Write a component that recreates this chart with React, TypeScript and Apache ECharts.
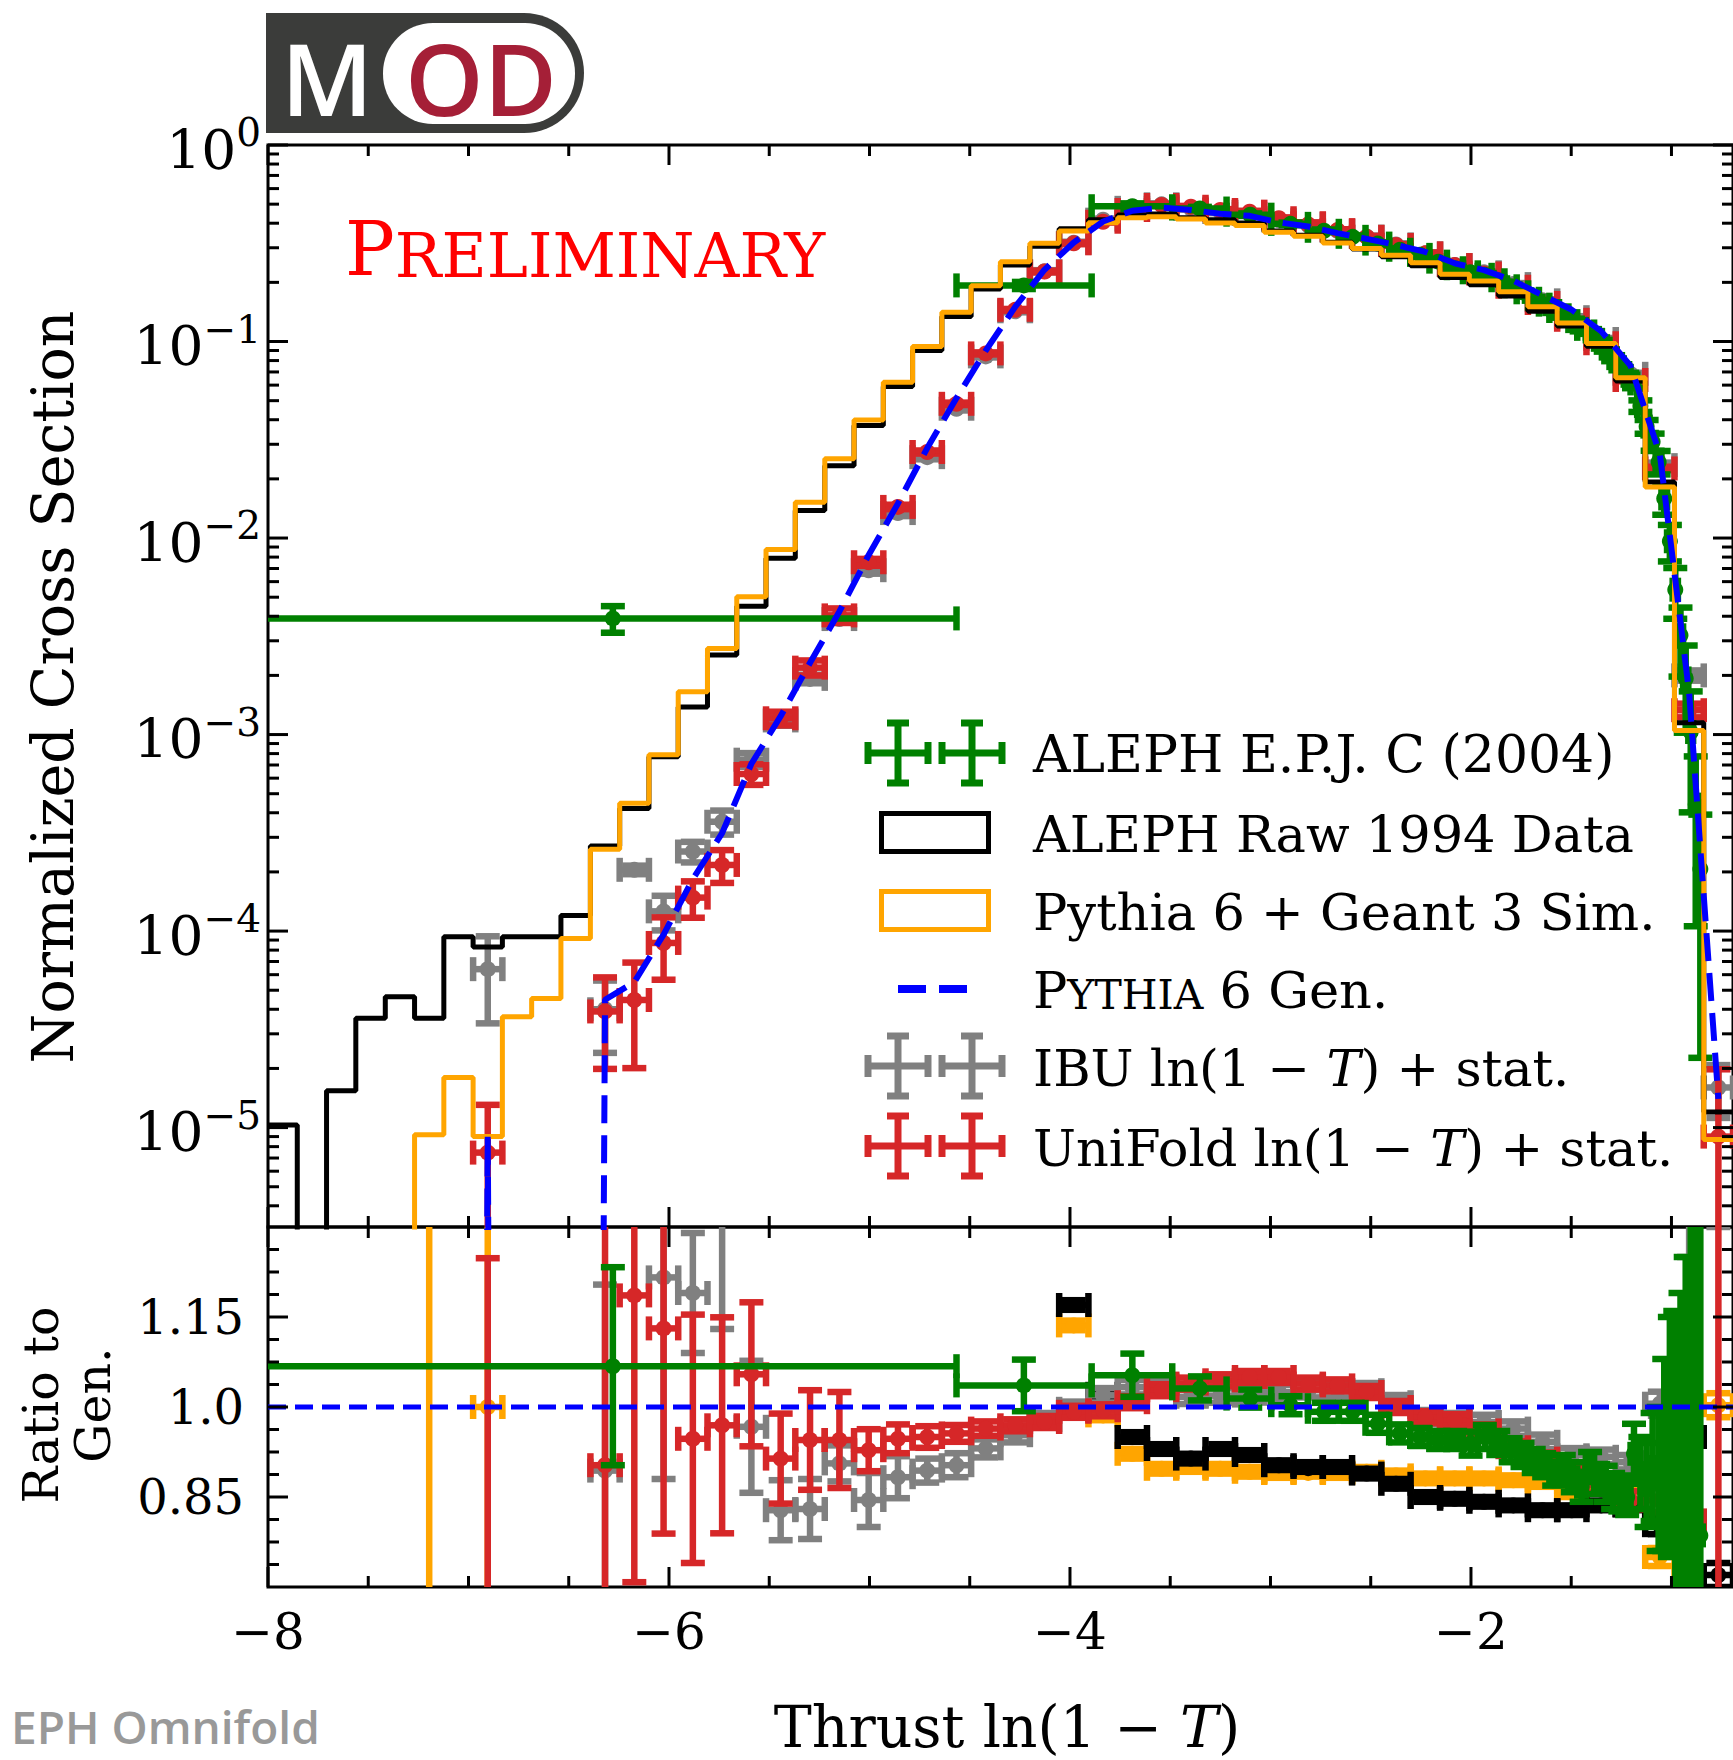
import React, { useEffect, useRef } from 'react';
import * as echarts from 'echarts';

// ---------------- DATA ----------------
// 50 bins in ln(1-T), edges
const BIN_EDGES = [-8.000, -7.854, -7.708, -7.562, -7.415, -7.269, -7.123, -6.977, -6.831, -6.685, -6.539, -6.392, -6.246, -6.100, -5.954, -5.808, -5.662, -5.516, -5.370, -5.223, -5.077, -4.931, -4.785, -4.639, -4.493, -4.347, -4.200, -4.054, -3.908, -3.762, -3.616, -3.470, -3.324, -3.177, -3.031, -2.885, -2.739, -2.593, -2.447, -2.301, -2.154, -2.008, -1.862, -1.716, -1.570, -1.424, -1.278, -1.131, -0.985, -0.839, -0.693];

// Pythia 6 generator level (blue dashed), per bin
const GEN = [0, 0, 0, 0, 0, 0, 0, 9.0e-6, 0, 0, 0, 4.47e-5, 5.5e-5, 9.6e-5, 1.84e-4, 3.15e-4, 7.1e-4, 1.24e-3, 2.32e-3, 4.23e-3, 8.2e-3, 1.5e-2, 2.87e-2, 5.16e-2, 9.0e-2, 0.15, 0.232, 0.319, 0.408, 0.463, 0.48, 0.467, 0.447, 0.436, 0.404, 0.385, 0.356, 0.333, 0.31, 0.286, 0.25, 0.231, 0.204, 0.172, 0.145, 0.113, 0.0754, 0.0267, 0.00164, 1.4e-5];

// ALEPH raw 1994 data (black histogram)
const ALEPH_RAW = [1.03e-5, 0, 1.54e-5, 3.6e-5, 4.63e-5, 3.6e-5, 9.35e-5, 8.3e-5, 9.35e-5, 9.35e-5, 1.2e-4, 2.71e-4, 4.2e-4, 7.7e-4, 1.38e-3, 2.54e-3, 4.5e-3, 7.9e-3, 1.38e-2, 2.33e-2, 3.74e-2, 5.9e-2, 9.0e-2, 0.134, 0.185, 0.245, 0.305, 0.375, 0.417, 0.44, 0.446, 0.427, 0.416, 0.401, 0.365, 0.347, 0.32, 0.296, 0.27, 0.243, 0.212, 0.1945, 0.1705, 0.1424, 0.12, 0.0945, 0.063, 0.0193, 1.15e-3, 1.2e-5];

// Pythia 6 + Geant 3 simulation (orange histogram)
const PYTHIA_SIM = [0, 0, 0, 0, 0, 9.2e-6, 1.8e-5, 9.0e-6, 3.66e-5, 4.54e-5, 9.18e-5, 2.61e-4, 4.47e-4, 7.9e-4, 1.65e-3, 2.74e-3, 5.02e-3, 8.74e-3, 1.52e-2, 2.53e-2, 3.99e-2, 6.2e-2, 9.44e-2, 0.141, 0.192, 0.255, 0.316, 0.365, 0.402, 0.427, 0.431, 0.42, 0.401, 0.389, 0.36, 0.343, 0.317, 0.297, 0.275, 0.252, 0.22, 0.2035, 0.179, 0.1505, 0.1244, 0.0977, 0.0654, 0.0182, 1.05e-3, 8.7e-6];

// Unfolded results live in these bins
const UNF_BINS = [7, 11, 12, 13, 14, 15, 16, 17, 18, 19, 20, 21, 22, 23, 24, 25, 26, 27, 28, 29, 30, 31, 32, 33, 34, 35, 36, 37, 38, 39, 40, 41, 42, 43, 44, 45, 46, 47, 48, 49];

// UniFold (red)
const UNIFOLD = [7.46e-6, 3.9e-5, 4.46e-5, 8.7e-5, 1.48e-4, 2.17e-4, 6.3e-4, 1.21e-3, 2.19e-3, 4.04e-3, 7.53e-3, 1.44e-2, 2.74e-2, 4.82e-2, 8.7e-2, 0.145, 0.227, 0.316, 0.407, 0.467, 0.495, 0.485, 0.467, 0.458, 0.424, 0.40, 0.369, 0.341, 0.31, 0.281, 0.245, 0.222, 0.19, 0.157, 0.129, 0.098, 0.0637, 0.0226, 1.33e-3, 9e-6];
const UNIFOLD_REL = [0.75, 0.49, 0.55, 0.35, 0.21, 0.19, 0.12, 0.08, 0.088, 0.085, 0.04, 0.026, 0.018, 0.014, 0.012, 0.01, 0.01, 0.01, 0.01, 0.01, 0.01, 0.01, 0.01, 0.01, 0.01, 0.01, 0.01, 0.01, 0.01, 0.01, 0.01, 0.01, 0.01, 0.01, 0.01, 0.012, 0.015, 0.02, 0.08, 1.2];
const UNIFOLD_RATIO = [0.62, 0.903, 1.186, 1.131, 0.947, 0.9695, 1.0545, 0.914, 0.945, 0.945, 0.928, 0.947, 0.95, 0.956, 0.964, 0.9695, 0.975, 0.992, 0.9945, 1.008, 1.028, 1.039, 1.0445, 1.05, 1.05, 1.039, 1.036, 1.025, 1.0, 0.983, 0.978, 0.961, 0.933, 0.914, 0.889, 0.8695, 0.8445, 0.8445, 0.811, 0.59];
const UNIFOLD_RATIO_ERR = [0.628, 0.5, 0.478, 0.342, 0.207, 0.18, 0.12, 0.075, 0.083, 0.08, 0.035, 0.024, 0.018, 0.014, 0.012, 0.01, 0.01, 0.01, 0.01, 0.01, 0.01, 0.01, 0.01, 0.01, 0.01, 0.01, 0.01, 0.01, 0.01, 0.01, 0.01, 0.01, 0.01, 0.01, 0.01, 0.012, 0.015, 0.02, 0.1, 1.0];

// IBU (gray)
const IBU = [6.4e-5, 4.0e-5, 2.05e-4, 1.26e-4, 2.54e-4, 3.6e-4, 7.45e-4, 1.18e-3, 1.92e-3, 3.87e-3, 6.86e-3, 1.34e-2, 2.58e-2, 4.55e-2, 8.4e-2, 0.1425, 0.228, 0.318, 0.417, 0.479, 0.499, 0.475, 0.456, 0.446, 0.414, 0.396, 0.366, 0.342, 0.312, 0.281, 0.245, 0.225, 0.196, 0.162, 0.133, 0.103, 0.0685, 0.0235, 2.0e-3, 1.6e-5];
const IBU_REL = [0.47, 0.4, 0.05, 0.2, 0.12, 0.14, 0.08, 0.06, 0.05, 0.04, 0.04, 0.035, 0.025, 0.02, 0.012, 0.012, 0.012, 0.012, 0.012, 0.012, 0.012, 0.012, 0.012, 0.012, 0.012, 0.012, 0.012, 0.012, 0.012, 0.012, 0.012, 0.012, 0.012, 0.012, 0.012, 0.012, 0.012, 0.03, 0.06, 0.3];
const IBU_RATIO = [7.0, 0.894, 3.7, 1.216, 1.19, 1.33, 0.967, 0.828, 0.83, 0.906, 0.845, 0.883, 0.894, 0.903, 0.931, 0.953, 0.978, 0.997, 1.0195, 1.033, 1.036, 1.017, 1.019, 1.022, 1.025, 1.028, 1.028, 1.028, 1.008, 0.983, 0.978, 0.975, 0.964, 0.942, 0.9195, 0.917, 0.908, 1.0055, 1.35, 1.4];
const IBU_RATIO_ERR = [0.1, 0.31, 0.1, 0.336, 0.1, 0.2, 0.11, 0.05, 0.05, 0.03, 0.045, 0.035, 0.02, 0.02, 0.015, 0.012, 0.012, 0.012, 0.012, 0.012, 0.012, 0.012, 0.012, 0.012, 0.012, 0.012, 0.012, 0.012, 0.012, 0.012, 0.012, 0.012, 0.012, 0.012, 0.012, 0.012, 0.012, 0.02, 0.1, 0.1];

// Ratios of raw data / simulation to generator
const RAW_RATIO_BINS = [27, 28, 29, 30, 31, 32, 33, 34, 35, 36, 37, 38, 39, 40, 41, 42, 43, 44, 45, 46, 47, 48, 49];
const RAW_RATIO = [1.17, 1.022, 0.95, 0.93, 0.914, 0.93, 0.92, 0.903, 0.9, 0.9, 0.889, 0.872, 0.85, 0.847, 0.842, 0.836, 0.828, 0.828, 0.836, 0.836, 0.803, 0.95, 0.72];
const RAW_RATIO_ERR = [0.008, 0.008, 0.008, 0.008, 0.008, 0.008, 0.008, 0.008, 0.008, 0.008, 0.008, 0.008, 0.008, 0.008, 0.008, 0.008, 0.008, 0.008, 0.008, 0.008, 0.015, 0.09, 0.02];
const SIM_RATIO_BINS = [5, 7, 27, 28, 29, 30, 31, 32, 33, 34, 35, 36, 37, 38, 39, 40, 41, 42, 43, 44, 45, 46, 47, 48, 49];
const SIM_RATIO = [2.0, 1.0, 1.136, 0.986, 0.922, 0.897, 0.9, 0.897, 0.892, 0.89, 0.892, 0.89, 0.892, 0.886, 0.881, 0.881, 0.881, 0.878, 0.875, 0.858, 0.865, 0.867, 0.75, 0.72, 1.003];
const SIM_RATIO_ERR = [2.0, 0.5, 0.008, 0.008, 0.008, 0.008, 0.008, 0.008, 0.008, 0.008, 0.008, 0.008, 0.008, 0.008, 0.008, 0.008, 0.008, 0.008, 0.008, 0.008, 0.008, 0.008, 0.015, 0.025, 0.02];

// ALEPH E.P.J. C (2004): bin edges and point positions in ln(1-T)
const ALEPH_LN_EDGES = [-9, -4.566, -3.892, -3.490, -3.219, -2.996, -2.813, -2.659, -2.526, -2.408, -2.303, -2.207, -2.120, -2.040, -1.966, -1.897, -1.833, -1.772, -1.715, -1.661, -1.609, -1.561, -1.514, -1.470, -1.427, -1.386, -1.347, -1.309, -1.273, -1.238, -1.204, -1.171, -1.139, -1.109, -1.079, -1.050, -1.022, -0.994, -0.968, -0.942, -0.916, -0.892, -0.868, -0.844];
const ALEPH_X = [-6.28, -4.23, -3.689, -3.352, -3.101, -2.900, -2.733, -2.590, -2.465, -2.354, -2.254, -2.163, -2.079, -2.002, -1.931, -1.864, -1.802, -1.743, -1.687, -1.635, -1.585, -1.537, -1.492, -1.448, -1.406, -1.366, -1.328, -1.291, -1.255, -1.221, -1.187, -1.155, -1.124, -1.094, -1.064, -1.036, -1.008, -0.981, -0.955, -0.929, -0.904, -0.879, -0.856];
const ALEPH_VAL = [3.9e-3, 0.193, 0.488, 0.475, 0.442, 0.397, 0.366, 0.341, 0.315, 0.293, 0.276, 0.255, 0.236, 0.225, 0.2185, 0.205, 0.191, 0.178, 0.165, 0.154, 0.143, 0.136, 0.127, 0.116, 0.1125, 0.102, 0.092, 0.0823, 0.074, 0.0669, 0.0612, 0.047, 0.0369, 0.0309, 0.0244, 0.0159, 0.00963, 0.00546, 0.0032, 0.00193, 1.03e-3, 4.4e-4, 2.07e-4];
const ALEPH_RATIO = [1.068, 1.036, 1.053, 1.031, 1.014, 1.003, 0.992, 0.992, 0.972, 0.956, 0.95, 0.945, 0.945, 0.939, 0.95, 0.94, 0.928, 0.92, 0.91, 0.903, 0.889, 0.895, 0.883, 0.867, 0.9, 0.88, 0.872, 0.86, 0.856, 0.85, 0.922, 0.89, 0.87, 0.9, 0.88, 0.92, 0.95, 0.9, 0.86, 0.85, 0.82, 0.79, 0.786];
const ALEPH_RATIO_ERR = [0.165, 0.043, 0.036, 0.02, 0.015, 0.015, 0.015, 0.015, 0.015, 0.015, 0.015, 0.015, 0.015, 0.02, 0.02, 0.02, 0.02, 0.02, 0.02, 0.02, 0.02, 0.025, 0.025, 0.025, 0.025, 0.025, 0.03, 0.03, 0.03, 0.03, 0.05, 0.06, 0.07, 0.09, 0.12, 0.16, 0.2, 0.26, 0.33, 0.4, 0.5, 0.6, 0.7];

// Axis ticks
const X_MAJOR = [-8, -6, -4, -2];
const X_MINOR = [-7.5, -7, -6.5, -5.5, -5, -4.5, -3.5, -3, -2.5, -1.5, -1];
const Y_DECADES = [1e-5, 1e-4, 1e-3, 1e-2, 1e-1, 1];
const Y_MANTISSAS = [2, 3, 4, 5, 6, 7, 8, 9];
const Y_MINOR_EXPONENTS = [-6, -5, -4, -3, -2, -1];
const R_MAJOR = [0.85, 1.0, 1.15];
const R_MINOR = [0.7375, 0.775, 0.8125, 0.8875, 0.925, 0.9625, 1.0375, 1.075, 1.1125, 1.1875, 1.225, 1.2625];

// ---------------- STYLE ----------------
const SERIF = '"DejaVu Serif", "Liberation Serif", serif';
const SANS = '"Open Sans", "Noto Sans", sans-serif';
const C_GREEN = '#008000';
const C_ORANGE = '#FFA500';
const C_BLUE = '#0000FF';
const C_GRAY = '#808080';
const C_RED = '#D62728';
const XMIN = -8;
const XMAX = -0.6931;
const YMIN = 3.12e-6;
const TINY = 1e-30;
const GRID_L = 268;
const GRID_W = 1479.6;
const MAIN_T = 145;
const MAIN_H = 1082;
const RAT_T = 1227;
const RAT_H = 360;

const center = (k: number) => (BIN_EDGES[k] + BIN_EDGES[k + 1]) / 2;

function histPoints(vals: number[]) {
  const pts: number[][] = [];
  vals.forEach((v, k) => {
    const y = v > 0 ? v : TINY;
    pts.push([BIN_EDGES[k], y], [BIN_EDGES[k + 1], y]);
  });
  return pts;
}

function errRender(color: string, lw: number, cap: number, r: number) {
  return (params: any, api: any) => {
    const x = api.value(0), y = api.value(1), xl = api.value(2), xh = api.value(3), yl = api.value(4), yh = api.value(5);
    const c = api.coord([x, y]);
    const l = api.coord([xl, y]);
    const rr = api.coord([xh, y]);
    const b = api.coord([x, yl]);
    const t = api.coord([x, yh]);
    const h = cap / 2;
    const st = { stroke: color, lineWidth: lw, fill: null };
    const seg = (x1: number, y1: number, x2: number, y2: number) => ({ type: 'line', shape: { x1, y1, x2, y2 }, style: st });
    const children: any[] = [
      seg(l[0], c[1], rr[0], c[1]),
      seg(l[0], c[1] - h, l[0], c[1] + h),
      seg(rr[0], c[1] - h, rr[0], c[1] + h),
      seg(c[0], b[1], c[0], t[1]),
      seg(c[0] - h, b[1], c[0] + h, b[1]),
      seg(c[0] - h, t[1], c[0] + h, t[1]),
    ];
    if (r > 0) children.push({ type: 'circle', shape: { cx: c[0], cy: c[1], r }, style: { fill: color } });
    return { type: 'group', children };
  };
}

function errSeries(name: string, color: string, gi: number, data: number[][]) {
  return {
    type: 'custom', name, xAxisIndex: gi, yAxisIndex: gi, clip: true, silent: true,
    encode: { x: 0, y: 1 }, data, renderItem: errRender(color, 6.5, 24, 8),
  };
}

function tickSeries(gi: number, data: number[][]) {
  return {
    type: 'custom', xAxisIndex: gi, yAxisIndex: gi, clip: false, silent: true, z: 5,
    encode: { x: 0, y: 1 }, data,
    renderItem: (params: any, api: any) => {
      const p = api.coord([api.value(0), api.value(1)]);
      return { type: 'line', shape: { x1: p[0], y1: p[1], x2: p[0] + api.value(2), y2: p[1] + api.value(3) }, style: { stroke: '#000', lineWidth: 3 } };
    },
  };
}

const mainErrData = (vals: number[], rel: number[]) =>
  UNF_BINS.map((k, i) => {
    const v = vals[i];
    const e = v * rel[i];
    return [center(k), v, BIN_EDGES[k], BIN_EDGES[k + 1], Math.max(v - e, TINY), v + e];
  });
const ratioErrData = (bins: number[], vals: number[], errs: number[]) =>
  bins.map((k, i) => [center(k), vals[i], BIN_EDGES[k], BIN_EDGES[k + 1], vals[i] - errs[i], vals[i] + errs[i]]);
const alephMain = ALEPH_VAL.map((v, j) => {
  const e = v * ALEPH_RATIO_ERR[j] / ALEPH_RATIO[j];
  return [ALEPH_X[j], v, ALEPH_LN_EDGES[j], ALEPH_LN_EDGES[j + 1], Math.max(v - e, TINY), v + e];
});
const alephRatio = ALEPH_RATIO.map((r, j) => [ALEPH_X[j], r, ALEPH_LN_EDGES[j], ALEPH_LN_EDGES[j + 1], r - ALEPH_RATIO_ERR[j], r + ALEPH_RATIO_ERR[j]]);

// tick marks (inward)
const mainTicks: number[][] = [];
X_MAJOR.forEach((v) => { mainTicks.push([v, YMIN, 0, -20], [v, 1, 0, 20]); });
X_MINOR.forEach((v) => { mainTicks.push([v, YMIN, 0, -11], [v, 1, 0, 11]); });
Y_DECADES.forEach((v) => { mainTicks.push([XMIN, v, 20, 0], [XMAX, v, -20, 0]); });
Y_MINOR_EXPONENTS.forEach((e) => Y_MANTISSAS.forEach((m) => {
  const v = m * Math.pow(10, e);
  if (v > YMIN && v < 1) mainTicks.push([XMIN, v, 11, 0], [XMAX, v, -11, 0]);
}));
const ratTicks: number[][] = [];
X_MAJOR.forEach((v) => { ratTicks.push([v, 0.7, 0, -20], [v, 1.3, 0, 20]); });
X_MINOR.forEach((v) => { ratTicks.push([v, 0.7, 0, -11], [v, 1.3, 0, 11]); });
R_MAJOR.forEach((v) => { ratTicks.push([XMIN, v, 20, 0], [XMAX, v, -20, 0]); });
R_MINOR.forEach((v) => { ratTicks.push([XMIN, v, 11, 0], [XMAX, v, -11, 0]); });

// ---------------- GRAPHICS ----------------
function crossIcon(cx: number, cy: number, color: string) {
  const h = 30, c = 11, lw = 7;
  const st = { stroke: color, lineWidth: lw };
  const L = (x1: number, y1: number, x2: number, y2: number) => ({ type: 'line', shape: { x1, y1, x2, y2 }, style: st, z: 10 });
  return {
    type: 'group', children: [
      L(cx - h, cy, cx + h, cy), L(cx, cy - h, cx, cy + h),
      L(cx - h, cy - c, cx - h, cy + c), L(cx + h, cy - c, cx + h, cy + c),
      L(cx - c, cy - h, cx + c, cy - h), L(cx - c, cy + h, cx + c, cy + h),
    ],
  };
}

function txt(x: number, y: number, text: string, size: number, extra: any = {}) {
  return {
    type: 'text', x, y, rotation: extra.rotation || 0, z: extra.z || 10,
    style: {
      text, fontSize: size, fontFamily: extra.family || SERIF, fill: extra.fill || '#000',
      fontWeight: extra.weight || 'normal', lineHeight: extra.lineHeight,
      align: extra.align || 'left', textAlign: extra.align || 'left',
      verticalAlign: extra.valign || 'middle', textVerticalAlign: extra.valign || 'middle',
      rich: extra.rich,
    },
  };
}

const italicRich = (size: number) => ({ i: { fontStyle: 'italic', fontSize: size, lineHeight: size, fontFamily: SERIF, fill: '#000' } });

const graphics: any[] = [
  // logo
  { type: 'rect', shape: { x: 266, y: 13, width: 318, height: 120, r: [0, 60, 60, 0] }, style: { fill: '#3b3c3a' }, z: 10 },
  { type: 'rect', shape: { x: 383, y: 23, width: 192, height: 101, r: 50 }, style: { fill: '#ffffff' }, z: 11 },
  txt(327, 77, 'M', 100, { family: SANS, weight: 600, fill: '#ffffff', align: 'center', z: 12 }),
  txt(481, 77, 'OD', 100, { family: SANS, weight: 600, fill: '#A51F37', align: 'center', z: 12 }),
  // preliminary
  {
    type: 'text', x: 345, y: 286, z: 10,
    style: {
      text: '{p|P}{s|RELIMINARY}', align: 'left', textAlign: 'left', verticalAlign: 'bottom', textVerticalAlign: 'bottom',
      rich: {
        p: { fontSize: 74, lineHeight: 74, fontFamily: SERIF, fill: '#FF0000', verticalAlign: 'bottom' },
        s: { fontSize: 62, lineHeight: 66, fontFamily: SERIF, fill: '#FF0000', verticalAlign: 'bottom' },
      },
    },
  },
  // legend
  crossIcon(898, 753, C_GREEN), crossIcon(972, 753, C_GREEN),
  { type: 'rect', shape: { x: 881.5, y: 813.5, width: 107, height: 38 }, style: { fill: 'none', stroke: '#000', lineWidth: 5 }, z: 10 },
  { type: 'rect', shape: { x: 881.5, y: 891.5, width: 107, height: 38 }, style: { fill: 'none', stroke: C_ORANGE, lineWidth: 5 }, z: 10 },
  { type: 'line', shape: { x1: 898, y1: 989, x2: 926, y2: 989 }, style: { stroke: C_BLUE, lineWidth: 8 }, z: 10 },
  { type: 'line', shape: { x1: 939, y1: 989, x2: 967, y2: 989 }, style: { stroke: C_BLUE, lineWidth: 8 }, z: 10 },
  crossIcon(898, 1066, C_GRAY), crossIcon(972, 1066, C_GRAY),
  crossIcon(898, 1146, C_RED), crossIcon(972, 1146, C_RED),
  txt(1033, 754, 'ALEPH E.P.J. C (2004)', 52),
  txt(1033, 834, 'ALEPH Raw 1994 Data', 51),
  txt(1033, 912, 'Pythia 6 + Geant 3 Sim.', 51),
  {
    type: 'text', x: 1033, y: 990, z: 10,
    style: {
      text: '{p|P}{s|YTHIA}{p| 6 Gen.}', align: 'left', textAlign: 'left', verticalAlign: 'middle', textVerticalAlign: 'middle',
      rich: {
        p: { fontSize: 51, lineHeight: 51, fontFamily: SERIF, fill: '#000', verticalAlign: 'bottom' },
        s: { fontSize: 41, lineHeight: 44, fontFamily: SERIF, fill: '#000', verticalAlign: 'bottom' },
      },
    },
  },
  txt(1033, 1068, 'IBU ln(1 − {i|T}) + stat.', 51, { rich: italicRich(51), lineHeight: 51 }),
  txt(1033, 1148, 'UniFold ln(1 − {i|T}) + stat.', 51, { rich: italicRich(51), lineHeight: 51 }),
  // axis titles
  txt(1007, 1727, 'Thrust ln(1 − {i|T})', 57, { align: 'center', rich: italicRich(57), lineHeight: 57 }),
  txt(53, 687, 'Normalized Cross Section', 57, { align: 'center', rotation: Math.PI / 2 }),
  txt(41, 1405, 'Ratio to', 49, { align: 'center', rotation: Math.PI / 2 }),
  txt(93, 1405, 'Gen.', 49, { align: 'center', rotation: Math.PI / 2 }),
  // footer
  txt(11, 1749, 'EPH Omnifold', 46, { family: SANS, weight: 600, fill: '#999999', valign: 'bottom', lineHeight: 46 }),
];

// ---------------- CHART ----------------
function buildOption() {
  const xAxisBase = (gi: number, labels: boolean) => ({
    type: 'value', gridIndex: gi, min: XMIN, max: XMAX, interval: 2,
    axisLine: { show: false }, axisTick: { show: false }, splitLine: { show: false },
    axisLabel: {
      show: labels, margin: 20, showMaxLabel: false, fontSize: 50, fontFamily: SERIF, color: '#000',
      formatter: (v: number) => (Math.abs(v - Math.round(v)) < 1e-6 ? (v < 0 ? '−' + Math.abs(Math.round(v)) : String(Math.round(v))) : ''),
    },
  });
  return {
    animation: false,
    grid: [
      { left: GRID_L, top: MAIN_T, width: GRID_W, height: MAIN_H, show: true, borderColor: '#000', borderWidth: 3, backgroundColor: 'transparent' },
      { left: GRID_L, top: RAT_T, width: GRID_W, height: RAT_H, show: true, borderColor: '#000', borderWidth: 3, backgroundColor: 'transparent' },
    ],
    xAxis: [xAxisBase(0, false), xAxisBase(1, true)],
    yAxis: [
      {
        type: 'log', gridIndex: 0, min: YMIN, max: 1, logBase: 10,
        axisLine: { show: false }, axisTick: { show: false }, splitLine: { show: false },
        axisLabel: {
          margin: 7, color: '#000',
          formatter: (v: number) => {
            const lg = Math.log10(v);
            const e = Math.round(lg);
            if (Math.abs(lg - e) > 1e-6) return '';
            return '{b|10}{s|' + (e < 0 ? '−' + -e : String(e)) + '}';
          },
          rich: {
            b: { fontSize: 55, fontFamily: SERIF, color: '#000', lineHeight: 64, verticalAlign: 'bottom' },
            s: { fontSize: 39, fontFamily: SERIF, color: '#000', lineHeight: 32, verticalAlign: 'top' },
          },
        },
      },
      {
        type: 'value', gridIndex: 1, min: 0.7, max: 1.3, interval: 0.05,
        axisLine: { show: false }, axisTick: { show: false }, splitLine: { show: false },
        axisLabel: {
          interval: 0, margin: 24, fontSize: 48, fontFamily: SERIF, color: '#000',
          formatter: (v: number) => {
            if (Math.abs(v - 1) < 1e-6) return '1.0';
            if (Math.abs(v - 0.85) < 1e-6) return '0.85';
            if (Math.abs(v - 1.15) < 1e-6) return '1.15';
            return '';
          },
        },
      },
    ],
    graphic: graphics,
    series: [
      // ---- main panel ----
      { type: 'line', xAxisIndex: 0, yAxisIndex: 0, data: histPoints(ALEPH_RAW), showSymbol: false, symbol: 'none', clip: true, silent: true, lineStyle: { color: '#000', width: 5 } },
      { type: 'line', xAxisIndex: 0, yAxisIndex: 0, data: histPoints(PYTHIA_SIM), showSymbol: false, symbol: 'none', clip: true, silent: true, lineStyle: { color: C_ORANGE, width: 5 } },
      errSeries('IBU', C_GRAY, 0, mainErrData(IBU, IBU_REL)),
      errSeries('UniFold', C_RED, 0, mainErrData(UNIFOLD, UNIFOLD_REL)),
      {
        type: 'line', xAxisIndex: 0, yAxisIndex: 0, showSymbol: false, symbol: 'none', clip: true, silent: true,
        data: GEN.map((v, k) => [center(k), v > 0 ? v : TINY]),
        lineStyle: { color: C_BLUE, width: 6, type: [28, 12] },
      },
      errSeries('ALEPH', C_GREEN, 0, alephMain),
      tickSeries(0, mainTicks),
      // ---- ratio panel ----
      errSeries('SimRatio', C_ORANGE, 1, ratioErrData(SIM_RATIO_BINS, SIM_RATIO, SIM_RATIO_ERR)),
      errSeries('RawRatio', '#000', 1, ratioErrData(RAW_RATIO_BINS, RAW_RATIO, RAW_RATIO_ERR)),
      {
        type: 'line', xAxisIndex: 1, yAxisIndex: 1, showSymbol: false, symbol: 'none', clip: true, silent: true,
        data: [[XMIN, 1], [XMAX, 1]], lineStyle: { color: C_BLUE, width: 5, type: [18, 9] },
      },
      errSeries('IBURatio', C_GRAY, 1, ratioErrData(UNF_BINS, IBU_RATIO, IBU_RATIO_ERR)),
      errSeries('UniFoldRatio', C_RED, 1, ratioErrData(UNF_BINS, UNIFOLD_RATIO, UNIFOLD_RATIO_ERR)),
      errSeries('ALEPHRatio', C_GREEN, 1, alephRatio),
      tickSeries(1, ratTicks),
    ],
  };
}

export default function App() {
  const ref = useRef<HTMLDivElement>(null);
  useEffect(() => {
    if (!ref.current) return;
    const chart = echarts.init(ref.current, null, { renderer: 'svg' });
    chart.setOption(buildOption() as any);
    return () => chart.dispose();
  }, []);
  return (
    <div
      ref={ref}
      style={{ position: 'absolute', left: 0, top: 0, width: 1733, height: 1760, background: '#fff', overflow: 'hidden' }}
    />
  );
}
